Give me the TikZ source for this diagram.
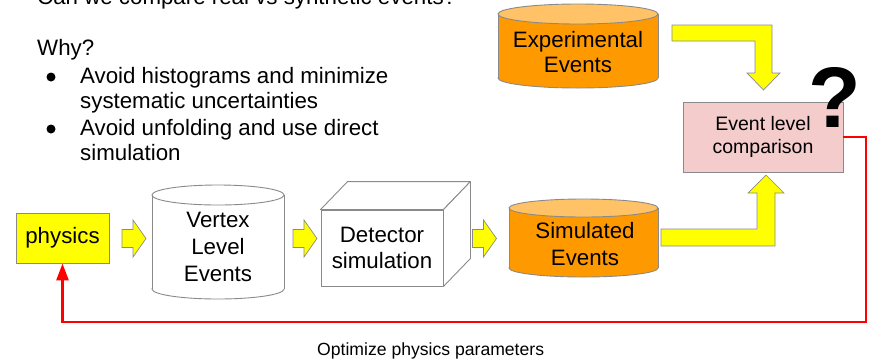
\documentclass[tikz,border=0pt]{standalone}
\usepackage{fontspec}
\setmainfont{Liberation Sans}
\usetikzlibrary{arrows.meta}

\definecolor{edge}{HTML}{8A8A8A}
\definecolor{ylw}{HTML}{FFFF00}
\definecolor{orng}{HTML}{FF9900}
\definecolor{orngtop}{HTML}{FFC266}
\definecolor{pinkbox}{HTML}{F4CCCC}
\definecolor{loopred}{HTML}{FF0000}

% cylinder: centre x, half width, top y, bottom y, lid radius, body fill, lid fill
\newcommand\cylinderat[7]{%
  \filldraw[fill=#6,draw=edge,line width=0.9pt] (#1,#4-#5) ellipse[x radius=#2, y radius=#5];
  \fill[#6] (#1-#2,#3+#5) rectangle (#1+#2,#4-#5);
  \draw[edge,line width=0.9pt] (#1-#2,#3+#5) -- (#1-#2,#4-#5) (#1+#2,#3+#5) -- (#1+#2,#4-#5);
  \filldraw[fill=#7,draw=edge,line width=0.9pt] (#1,#3+#5) ellipse[x radius=#2, y radius=#5];
}
% short block arrow pointing right: tail x, centre y
\newcommand\shortarrow[2]{%
  \filldraw[blockarrow] (#1,#2-9) -- (#1+11,#2-9) -- (#1+11,#2-18.5) -- (#1+24,#2)
    -- (#1+11,#2+18.5) -- (#1+11,#2+9) -- (#1,#2+9) -- cycle;
}

\begin{document}
\begin{tikzpicture}[x=1pt,y=-1pt,
  txt/.style={font=\fontsize{22.3}{26}\selectfont, inner sep=0pt},
  small/.style={font=\fontsize{19.5}{23}\selectfont, inner sep=0pt},
  blockarrow/.style={fill=ylw, draw=edge, line width=0.7pt, line join=miter},
  dot/.style={circle, fill=black, inner sep=0pt, minimum size=9pt},
  boxed/.style={draw=edge, line width=0.9pt, align=center}]
\useasboundingbox (0,0) rectangle (871,360);
\clip (0,0) rectangle (871,360);

% text block
\node[txt, anchor=base west] (head) at (37,4) {Can we compare real vs synthetic events?};
\node[txt, anchor=base west] (why) at (37,55) {Why?};
\node[dot] (b1) at (51,77) {};
\node[txt, anchor=base west] (l1) at (80,83) {Avoid histograms and minimize};
\node[txt, anchor=base west] (l2) at (80,108) {systematic uncertainties};
\node[dot] (b2) at (51,129) {};
\node[txt, anchor=base west] (l3) at (80,135) {Avoid unfolding and use direct};
\node[txt, anchor=base west] (l4) at (80,160) {simulation};

% data stores
\cylinderat{578}{80}{4}{88}{10}{orng}{orngtop}
\node[txt, align=center, font=\fontsize{22.3}{25}\selectfont] (exp) at (578,52) {Experimental\\Events};

\cylinderat{218}{66}{185}{299}{10}{white}{white}
\node[txt, align=center, font=\fontsize{22.3}{27}\selectfont] (vtx) at (218,246.5) {Vertex\\Level\\Events};

\cylinderat{583.5}{74.5}{199}{277}{9}{orng}{orngtop}
\node[txt, align=center, font=\fontsize{22.3}{27}\selectfont] (sim) at (585,244) {Simulated\\Events};

% physics input
\node[boxed, fill=ylw, txt, minimum width=93pt, minimum height=50pt] (phys) at (62.5,238) {physics};

% detector cube
\node[boxed, fill=white, txt, minimum width=122pt, minimum height=76pt] (det) at (382,248) {Detector\\simulation};
\filldraw[fill=white, draw=edge, line width=0.9pt, line join=round]
  (det.north west) -- ([shift={(27,-28)}]det.north west) -- ([shift={(27,-28)}]det.north east) -- (det.north east) -- cycle;
\filldraw[fill=white, draw=edge, line width=0.9pt, line join=round]
  (det.north east) -- ([shift={(27,-28)}]det.north east) -- ([shift={(27,-28)}]det.south east) -- (det.south east) -- cycle;

% comparison
\node[boxed, fill=pinkbox, small, minimum width=160pt, minimum height=70pt] (cmp) at (763,137) {Event level\\comparison};
\node[font=\fontsize{86}{86}\bfseries\selectfont, inner sep=0pt, anchor=base] (qm) at (835,127) {?};

% flow arrows
\shortarrow{122}{238.5}
\shortarrow{293}{238.5}
\shortarrow{472.5}{238.5}

\filldraw[blockarrow] (672,25) -- (772,25) -- (772,73) -- (780,73) -- (763.5,90)
  -- (747,73) -- (755,73) -- (755,41) -- (672,41) -- cycle;
\filldraw[blockarrow] (661,229) -- (757,229) -- (757,193) -- (748,193) -- (766,175)
  -- (784,193) -- (775,193) -- (775,246) -- (661,246) -- cycle;

% feedback loop
\coordinate (loopcorner) at (866,322);
\draw[loopred, line width=2.8pt, line join=miter, -{Triangle[width=12pt,length=17pt]}]
  (cmp.east) -| (loopcorner) -| (phys.south);
\node[font=\fontsize{17.6}{21}\selectfont, inner sep=0pt, anchor=base west] (opt) at (317,355) {Optimize physics parameters};
\end{tikzpicture}
\end{document}
